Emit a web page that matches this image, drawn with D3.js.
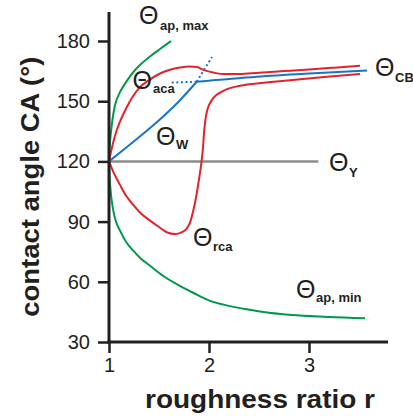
<!DOCTYPE html>
<html>
<head>
<meta charset="utf-8">
<script src="https://cdn.jsdelivr.net/npm/d3@7"></script>
<style>
	body { margin: 0; background: #fff; }
	text { font-family: "Liberation Sans", Arial, sans-serif; }
</style>
</head>
<body>
<div id="chart"></div>
<script>
//Data (r, contact angle in degrees)
const xTicks = [1, 2, 3];
const yTicks = [30, 60, 90, 120, 150, 180];

const apMax = [[1,120],[1.004,125],[1.01,129.5],[1.025,137],[1.043,143.5],[1.06,148],[1.11,154.5],[1.17,159.5],[1.243,164.5],[1.32,168.5],[1.41,172.3],[1.51,176],[1.62,180]];
const aca = [[1,120],[1.01,122.5],[1.04,129],[1.077,135.5],[1.12,141],[1.177,147],[1.24,152.5],[1.31,157],[1.4,160.5],[1.51,163.8],[1.61,165.7],[1.71,166.8],[1.8,167.3],[1.88,167],[1.95,165.5],[2.05,164.2],[2.15,163.5],[2.3,163.5],[2.5,164.2],[2.75,165],[3,165.8],[3.25,166.7],[3.51,167.7]];
const wenzel = [[1,120],[1.25,130],[1.5,140.5],[1.7,150],[1.877,159.7]];
const cassie = [[1.877,159.7],[2.477,162.2],[3.0,163.8],[3.58,165.3]];
const cassieDotted = [[1.627,159.3],[1.877,159.7]];
const wenzelDotted = [[1.877,159.7],[2.03,172]];
const rca = [[1,120],[1.01,118.8],[1.05,114],[1.11,108.3],[1.17,103],[1.243,98.3],[1.32,94],[1.41,90.5],[1.5,87.3],[1.577,84.7],[1.66,83.8],[1.73,84.8],[1.777,86.5],[1.81,89.5],[1.843,95.5],[1.87,102],[1.893,108.8],[1.912,115],[1.927,120.5],[1.94,127],[1.95,134],[1.962,140],[1.98,145],[2.0,148],[2.027,150.5],[2.08,153.3],[2.143,155.2],[2.31,157.7],[2.55,159.2],[2.81,160.5],[3.15,162],[3.51,163.5]];
const apMin = [[1,120],[1.005,113],[1.015,106],[1.043,95.5],[1.07,90],[1.11,85.5],[1.17,80],[1.243,75.5],[1.32,71.5],[1.41,68],[1.54,63],[1.677,58.8],[1.85,54.3],[2.01,50.5],[2.2,48],[2.377,46.3],[2.6,44.6],[2.877,43.3],[3.2,42.4],[3.56,41.8]];
const young = [[1,120],[3.093,120]];

//Constants
const width = 413, height = 419;
const axisColor = "#231f20";

let x = d3.scaleLinear().domain([1, 3]).range([109, 309]);
let y = d3.scaleLinear().domain([30, 180]).range([342, 41]);

let svg = d3.select("#chart")
	.append("svg")
	.attr("width", width)
	.attr("height", height);

let smooth = d3.line()
	.x(d => x(d[0]))
	.y(d => y(d[1]))
	.curve(d3.curveMonotoneX);

let straight = d3.line()
	.x(d => x(d[0]))
	.y(d => y(d[1]));

let drawCurve = function(data, gen, color, w, dash) {
	svg.append("path")
		.attr("d", gen(data))
		.attr("fill", "none")
		.attr("stroke", color)
		.attr("stroke-width", w)
		.attr("stroke-dasharray", dash || null);
}

drawCurve(young, straight, "#8c8c8c", 2.5);
drawCurve(apMax, smooth, "#00984a", 2);
drawCurve(apMin, smooth, "#00984a", 2);
drawCurve(aca, smooth, "#e1242a", 2);
drawCurve(rca, smooth, "#e1242a", 2);
drawCurve(wenzel, smooth, "#1874c4", 2);
drawCurve(cassie, smooth, "#1874c4", 2);
drawCurve(cassieDotted, straight, "#1874c4", 2, "2,2.6");
drawCurve(wenzelDotted, straight, "#1874c4", 2, "2,2.6");

//Axes
let yAxis = svg.append("g")
	.attr("transform", "translate(" + x(1) + ",0)")
	.call(d3.axisLeft(y).tickValues(yTicks).tickSize(11).tickPadding(8));
let xAxis = svg.append("g")
	.attr("transform", "translate(0," + y(30) + ")")
	.call(d3.axisBottom(x).tickValues(xTicks).tickFormat(d3.format("d")).tickSize(11).tickPadding(5));

[yAxis, xAxis].forEach(function(g) {
	g.select(".domain").remove();
	g.selectAll(".tick line").attr("stroke", axisColor).attr("stroke-width", 2.5);
	g.selectAll(".tick text")
		.attr("fill", axisColor)
		.style("font-size", "20px")
		.style("font-family", "'Liberation Sans', Arial, sans-serif");
});

svg.append("line")
	.attr("x1", x(1)).attr("x2", x(1))
	.attr("y1", y(194.5)).attr("y2", y(30) + 1.5)
	.attr("stroke", axisColor).attr("stroke-width", 3);
svg.append("line")
	.attr("x1", x(1) - 1.5).attr("x2", x(3.79))
	.attr("y1", y(30)).attr("y2", y(30))
	.attr("stroke", axisColor).attr("stroke-width", 3);

//Axis titles
svg.append("text")
	.attr("transform", "translate(39,186.7) rotate(-90)")
	.attr("text-anchor", "middle")
	.attr("textLength", 260)
	.attr("lengthAdjust", "spacingAndGlyphs")
	.attr("fill", axisColor)
	.style("font-size", "25px")
	.style("font-weight", "bold")
	.text("contact angle CA  (°)");

svg.append("text")
	.attr("x", 260).attr("y", 408)
	.attr("text-anchor", "middle")
	.attr("textLength", 230)
	.attr("lengthAdjust", "spacingAndGlyphs")
	.attr("fill", axisColor)
	.style("font-size", "25px")
	.style("font-weight", "bold")
	.text("roughness ratio r");

//Curve labels: theta + subscript
let thetaLabel = function(tx, ty, sub, sx, sy) {
	svg.append("text")
		.attr("x", tx).attr("y", ty)
		.attr("fill", axisColor)
		.style("font-size", "25px")
		.text("Θ");
	svg.append("text")
		.attr("x", sx).attr("y", sy)
		.attr("fill", axisColor)
		.style("font-size", "13px")
		.style("font-weight", "bold")
		.text(sub);
}

thetaLabel(139, 24, "ap, max", 160, 29.5);
thetaLabel(132.5, 89, "aca", 153, 93);
thetaLabel(156, 144.5, "W", 176, 148.5);
thetaLabel(375, 76, "CB", 395, 81.5);
thetaLabel(329, 171, "Y", 349, 176.5);
thetaLabel(193, 246, "rca", 213, 250.5);
thetaLabel(296, 297.5, "ap, min", 316, 301.5);
</script>
</body>
</html>
